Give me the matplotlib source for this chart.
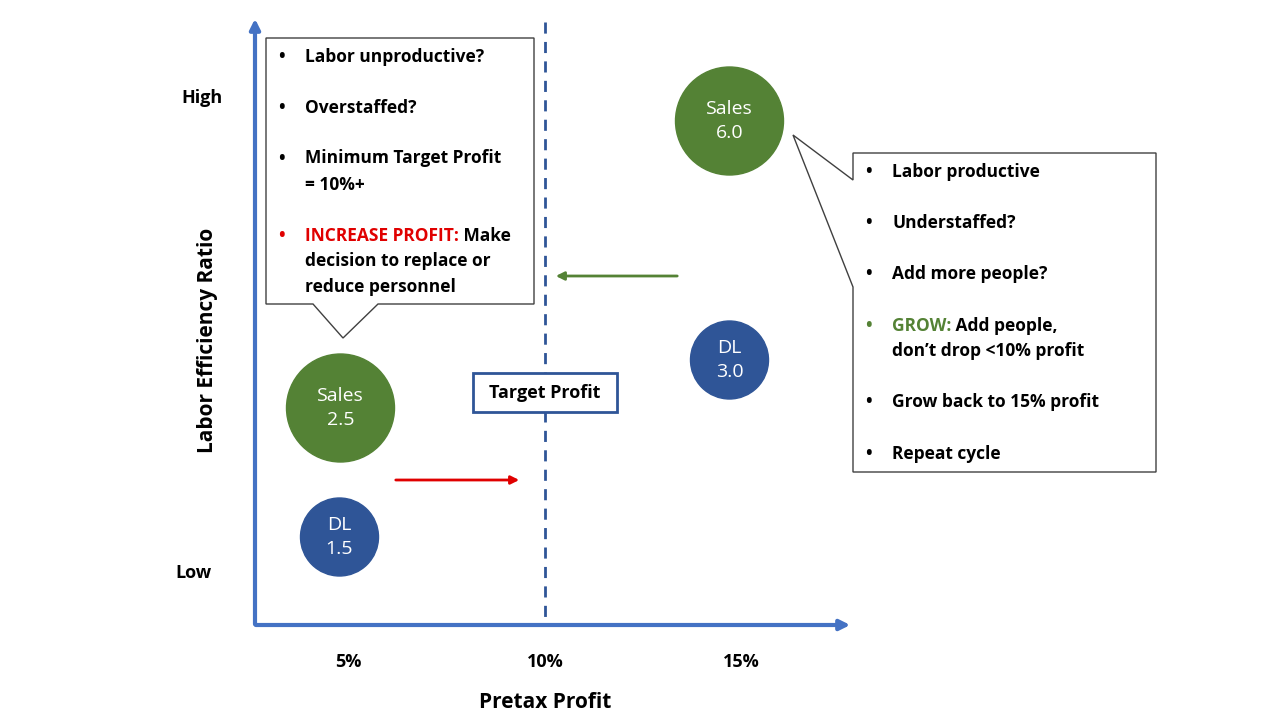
import matplotlib.pyplot as plt
from matplotlib.patches import Circle, Polygon, FancyBboxPatch

# data
profit_ticks = [5, 10, 15]
tick_labels = ["5%", "10%", "15%"]
bubble_names = ["Sales", "DL", "Sales", "DL"]
bubble_values = [6.0, 3.0, 2.5, 1.5]
bubble_profit = [15, 15, 5, 5]
bubble_ypix = [121, 360, 408, 537]
bubble_radius = [54, 39, 54, 39]
bubble_colors = ["#548235", "#2F5597", "#548235", "#2F5597"]

left_notes = [
    ("Labor unproductive?", 57),
    ("Overstaffed?", 108),
    ("Minimum Target Profit\n= 10%+", 159),
    (None, 236),
]
right_notes = [
    ("Labor productive", 172),
    ("Understaffed?", 223),
    ("Add more people?", 274),
    (None, 326),
    ("Grow back to 15% profit", 402),
    ("Repeat cycle", 454),
]

FONT = "Open Sans"
AXIS_BLUE = "#4472C4"
DARK_BLUE = "#2F5597"
GREEN = "#548235"
RED = "#E00000"


def px(pct):
    return 152 + 39.3 * pct


fig = plt.figure(figsize=(12.8, 7.2), dpi=100)
ax = fig.add_axes([0, 0, 1, 1])
ax.set_xlim(0, 1280)
ax.set_ylim(720, 0)
ax.axis("off")

# axes arrows
ax.annotate("", xy=(255, 16), xytext=(255, 627),
            arrowprops=dict(arrowstyle="-|>", color=AXIS_BLUE, lw=3, mutation_scale=15))
ax.annotate("", xy=(853, 625), xytext=(253, 625),
            arrowprops=dict(arrowstyle="-|>", color=AXIS_BLUE, lw=3, mutation_scale=15))

# target line
ax.plot([px(10), px(10)], [22, 622], color=DARK_BLUE, lw=2, ls=(0, (4, 3)))

# tick labels and axis labels
for t, lab in zip(profit_ticks, tick_labels):
    ax.text(px(t), 662, lab, ha="center", va="center", fontsize=13, fontweight="bold", family=FONT)
ax.text(545, 703, "Pretax Profit", ha="center", va="center", fontsize=15, fontweight="bold", family=FONT)
ax.text(207, 340, "Labor Efficiency Ratio", ha="center", va="center", rotation=90,
        fontsize=15, fontweight="bold", family=FONT)
ax.text(202, 98, "High", ha="center", va="center", fontsize=13, fontweight="bold", family=FONT)
ax.text(193, 573, "Low", ha="center", va="center", fontsize=13, fontweight="bold", family=FONT)

# bubbles
for name, val, p, yp, r, c in zip(bubble_names, bubble_values, bubble_profit,
                                  bubble_ypix, bubble_radius, bubble_colors):
    ax.add_patch(Circle((px(p) - 8 if name == "Sales" and p == 5 else px(p) - 12 if p == 15 else px(p) - 9, yp),
                        r, color=c, zorder=3))
    cx = px(p) - 8 if name == "Sales" and p == 5 else px(p) - 12 if p == 15 else px(p) - 9
    ax.text(cx, yp, f"{name}\n{val:.1f}", ha="center", va="center", color="white",
            fontsize=14, family=FONT, linespacing=1.4, zorder=4)

# arrows
ax.annotate("", xy=(522, 480), xytext=(393, 480),
            arrowprops=dict(arrowstyle="-|>", color=RED, lw=2, mutation_scale=12))
ax.annotate("", xy=(553, 276), xytext=(680, 276),
            arrowprops=dict(arrowstyle="-|>", color=GREEN, lw=2, mutation_scale=12))

# target profit box
ax.add_patch(plt.Rectangle((473, 373), 144, 39, facecolor="white", edgecolor=DARK_BLUE, lw=2, zorder=5))
ax.text(545, 392.5, "Target Profit", ha="center", va="center", fontsize=13, fontweight="bold",
        family=FONT, zorder=6)

# left callout
ax.add_patch(Polygon([(266, 38), (534, 38), (534, 304), (378, 304), (343, 338), (313, 304), (266, 304)],
                     closed=True, facecolor="white", edgecolor="#404040", lw=1, zorder=5))
# right callout
ax.add_patch(Polygon([(853, 153), (1156, 153), (1156, 472), (853, 472), (853, 287), (793, 135), (853, 180)],
                     closed=True, facecolor="white", edgecolor="#404040", lw=1, zorder=5))

tkw = dict(fontsize=12.5, fontweight="bold", family=FONT, va="center", zorder=6, linespacing=1.6)

for txt, y in left_notes:
    if txt is None:
        ax.text(278, y, "•", color=RED, **tkw)
        red = ax.text(305, y, "INCREASE PROFIT:", color=RED, **tkw)
        ax.annotate(" Make", xy=(1, 0.5), xycoords=red, va="center", ha="left",
                    fontsize=12.5, fontweight="bold", family=FONT, zorder=6)
        ax.text(305, y + 38, "decision to replace or\nreduce personnel", **tkw)
    else:
        ax.text(278, y, "•", **tkw)
        ax.text(305, y + (12.5 if "\n" in txt else 0), txt, **tkw)

for txt, y in right_notes:
    if txt is None:
        ax.text(865, y, "•", color=GREEN, **tkw)
        g = ax.text(892, y, "GROW:", color=GREEN, **tkw)
        ax.annotate(" Add people,", xy=(1, 0.5), xycoords=g, va="center", ha="left",
                    fontsize=12.5, fontweight="bold", family=FONT, zorder=6)
        ax.text(892, y + 25, "don\u2019t drop <10% profit", **tkw)
    else:
        ax.text(865, y, "•", **tkw)
        ax.text(892, y, txt, **tkw)

fig.savefig("out.png", dpi=100)
